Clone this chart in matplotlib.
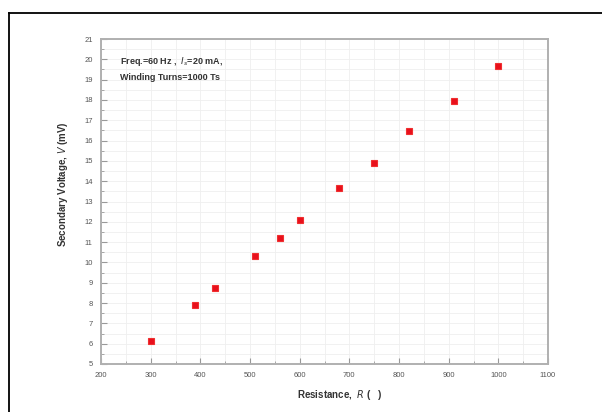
import matplotlib
matplotlib.use("Agg")
import matplotlib.pyplot as plt
from matplotlib.lines import Line2D
from matplotlib.ticker import MultipleLocator

# Measured secondary voltage versus load resistance
resistance = [300, 390, 430, 510, 560, 600, 680, 750, 820, 910, 1000]
voltage_mv = [6.15, 7.9, 8.75, 10.3, 11.2, 12.1, 13.65, 14.9, 16.45, 17.95, 19.65]

x_ticks = [200, 300, 400, 500, 600, 700, 800, 900, 1000, 1100]
y_ticks = list(range(5, 22))

plt.rcParams['font.family'] = ['Liberation Sans', 'DejaVu Sans']

W, H = 602, 412
fig = plt.figure(figsize=(W / 100, H / 100), dpi=100)
fig.patch.set_facecolor('white')

left, right, top, bottom = 101, 548, 39, 364
ax = fig.add_axes([left / W, 1 - bottom / H, (right - left) / W, (bottom - top) / H])

ax.plot(resistance, voltage_mv, linestyle='none', marker='s', markersize=3.8,
        color='#e8101c', markeredgecolor='#f03030', markeredgewidth=0.8)

ax.set_xlim(200, 1100)
ax.set_ylim(5, 21)
ax.set_xticks(x_ticks)
ax.set_yticks(y_ticks)
ax.xaxis.set_minor_locator(MultipleLocator(50))
ax.yaxis.set_minor_locator(MultipleLocator(0.5))

ax.grid(True, which='both', color='#efefef', linewidth=0.6)
ax.set_axisbelow(True)

for s in ax.spines.values():
    s.set_color('#b0b0b0')
    s.set_linewidth(1.4)

ax.tick_params(which='major', direction='in', length=4, width=0.8, color='#999999',
               labelsize=5.5, labelcolor='#555555', pad=6)
ax.tick_params(which='minor', direction='in', length=2, width=0.6, color='#999999')
ax.tick_params(top=False, right=False, which='both')

ax.text(0.042, 0.932, r'Freq.=60 Hz ,  $\mathit{I_s}$=20 mA,', transform=ax.transAxes,
        fontsize=6.5, fontweight='bold', color='#333333', va='center')
ax.text(0.042, 0.883, 'Winding Turns=1000 Ts', transform=ax.transAxes,
        fontsize=6.5, fontweight='bold', color='#333333', va='center')

fig.text(340 / W, 1 - 395 / H, r'Resistance,  $\mathbf{\mathit{R}}$ (   )', ha='center', va='center',
         fontsize=7, fontweight='bold', color='#333333')
fig.text(63 / W, 1 - 184 / H, r'Secondary Voltage, $\mathbf{\mathit{V}}$ (mV)', ha='center', va='center',
         rotation=90, fontsize=7, fontweight='bold', color='#333333')

# Page frame
fig.add_artist(Line2D([9 / W, 9 / W], [0, 1 - 13 / H], transform=fig.transFigure,
                      color='black', linewidth=1.3))
fig.add_artist(Line2D([9 / W, 1], [1 - 13 / H, 1 - 13 / H], transform=fig.transFigure,
                      color='black', linewidth=1.3))

fig.savefig('out.png', dpi=100)
